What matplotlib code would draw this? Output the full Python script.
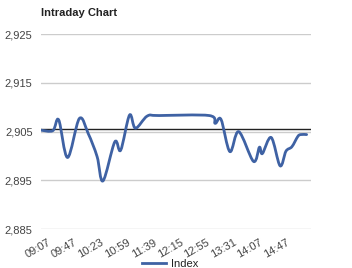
import matplotlib
matplotlib.use("Agg")
import matplotlib.pyplot as plt
import matplotlib.transforms as mtransforms
from matplotlib.path import Path
from matplotlib.patches import PathPatch
from matplotlib.lines import Line2D

plt.rcParams['font.family'] = ['Liberation Sans', 'DejaVu Sans']

# key points of the intraday index (category position, value)
positions = [0, 4, 6, 9, 13, 16, 19, 21, 25, 27, 30, 32, 36, 40, 57, 59, 61, 64,
             67, 72, 74, 75, 78, 81, 83, 85, 87, 88, 90]
values = [2905.3, 2905.2, 2907.4, 2899.7, 2907.7, 2904.6, 2899.9, 2894.9, 2902.9,
          2901.2, 2908.4, 2905.7, 2908.2, 2908.3, 2908.3, 2906.7, 2907.5, 2900.9,
          2905.0, 2898.9, 2901.8, 2900.5, 2903.8, 2898.0, 2901.0, 2901.9, 2904.0,
          2904.4, 2904.4]
prev_close = 2905.5
tick_pos = [0, 9, 18, 27, 36, 45, 54, 63, 72, 81]
tick_labels = ['09:07', '09:47', '10:23', '10:59', '11:39', '12:15', '12:55',
               '13:31', '14:07', '14:47']
yticks = [2885, 2895, 2905, 2915, 2925]
line_color = '#3f62a4'

fig = plt.figure(figsize=(3.52, 2.68), dpi=100)
ax = fig.add_axes([0.1165, 0.1448, 0.768, 0.728])

# smooth curve through the points (catmull-rom as cubic bezier)
verts = [(positions[0], values[0])]
codes = [Path.MOVETO]
n = len(positions)
for i in range(n - 1):
    x0, y0 = positions[max(i - 1, 0)], values[max(i - 1, 0)]
    x1, y1 = positions[i], values[i]
    x2, y2 = positions[i + 1], values[i + 1]
    x3, y3 = positions[min(i + 2, n - 1)], values[min(i + 2, n - 1)]
    t = 1 / 6
    c1 = (x1 + (x2 - x0) * t, y1 + (y2 - y0) * t)
    c2 = (x2 - (x3 - x1) * t, y2 - (y3 - y1) * t)
    verts += [c1, c2, (x2, y2)]
    codes += [Path.CURVE4] * 3
ax.add_patch(PathPatch(Path(verts, codes), facecolor='none', edgecolor=line_color,
                       lw=2, capstyle='round', joinstyle='round', zorder=3))

ax.axhline(prev_close, color='#222222', lw=1, zorder=2)

ax.set_xlim(0, 91.6)
ax.set_ylim(2885, 2925)
ax.set_yticks(yticks)
ax.set_yticklabels(['{:,}'.format(v) for v in yticks])
ax.set_xticks(tick_pos)
ax.set_xticklabels(tick_labels, rotation=30, ha='right', rotation_mode='anchor')
ax.grid(axis='y', color='#cccccc', lw=1)
ax.set_axisbelow(True)
for s in ax.spines.values():
    s.set_visible(False)
ax.tick_params(length=0, labelsize=8, colors='#444444')
ax.tick_params(axis='y', pad=6)
ax.tick_params(axis='x', pad=6)

# shift the slanted labels a bit to the right, like the original
shift = mtransforms.ScaledTranslation(6 / 100, 0, fig.dpi_scale_trans)
for lbl in ax.get_xticklabels():
    lbl.set_transform(lbl.get_transform() + shift)

fig.text(41 / 352, 1 - 13 / 268, 'Intraday Chart', fontsize=8, fontweight='bold',
         va='center', ha='left', color='#222222')

fig.legend(handles=[Line2D([], [], color=line_color, lw=2)], labels=['Index'],
           loc='center', bbox_to_anchor=(170 / 352, 1 - 264 / 268), frameon=False,
           fontsize=8, handlelength=2.2, handletextpad=0.4, labelcolor='#222222')

fig.savefig('out.png', dpi=100)
